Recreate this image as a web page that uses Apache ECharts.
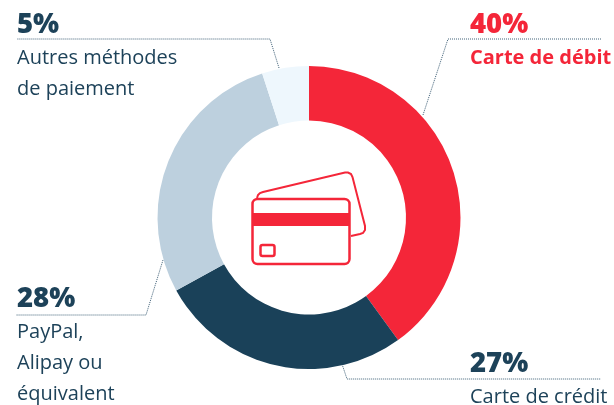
<!DOCTYPE html>
<html>
<head>
<meta charset="utf-8">
<style>html,body{margin:0;padding:0;background:#fff}#c{width:614px;height:405px}</style>
<script src="https://cdn.jsdelivr.net/npm/echarts@6/dist/echarts.min.js"></script>
</head>
<body>
<div id="c"></div>
<script>
const categories = ['Carte de débit', 'Carte de crédit', 'PayPal,\nAlipay ou\néquivalent', 'Autres méthodes\nde paiement'];
const values = [40, 27, 28, 5];
const colors = ['#F42639', '#1A4159', '#BDD0DE', '#EEF7FD'];
const textColors = ['#F42639', '#1D4259', '#1D4259', '#1D4259'];
const labelPos = [[470, 8], [470, 347], [17, 282], [17, 8]];
const guides = [
  [[423, 115], [448, 39], [601, 39]],
  [[342, 364], [347, 379], [601, 379]],
  [[163, 260], [146, 315], [16, 315]],
  [[279, 68], [270, 39], [17, 39]]
];
const backCard = [[257, 198], [258, 195], [260, 193], [263, 192], [345, 172.5], [348, 172.500], [351, 174], [352.5, 177], [365, 226], [365, 230], [363, 233], [360, 234], [351, 236]];
const FONT = '"Open Sans", "Noto Sans", sans-serif';
const RED = '#F42639';
const chart = echarts.init(document.getElementById('c'), null, {renderer: 'canvas'});
chart.setOption({
  animation: false,
  backgroundColor: '#fff',
  series: [{
    type: 'pie',
    center: [309, 217.5],
    radius: [97, 151.5],
    startAngle: 90,
    clockwise: true,
    silent: true,
    data: categories.map((name, i) => ({
      name, value: values[i],
      itemStyle: {color: colors[i]},
      label: {
        formatter: '{v|{c}%}\n{n|{b}}',
        rich: {
          v: {fontFamily: FONT, fontSize: 27.5, fontWeight: 800, color: textColors[i], lineHeight: 35, align: 'left'},
          n: {fontFamily: FONT, fontSize: 20, fontWeight: i === 0 ? 700 : 500, color: textColors[i], lineHeight: 31, align: 'left'}
        }
      }
    })),
    label: {show: true, position: 'outside', align: 'left', verticalAlign: 'top', overflow: 'none', width: 200, alignTo: 'none', edgeDistance: 0},
    labelLine: {show: true, lineStyle: {color: '#3F6077', width: 1, type: [1, 1]}},
    labelLayout: (p) => ({
      x: labelPos[p.dataIndex][0],
      y: labelPos[p.dataIndex][1],
      align: 'left',
      verticalAlign: 'top',
      labelLinePoints: guides[p.dataIndex]
    })
  }],
  graphic: {
    elements: [
      {type: 'rect', shape: {x: 252.5, y: 199, width: 97, height: 65, r: 5}, style: {fill: 'none', stroke: RED, lineWidth: 2.5}},
      {type: 'rect', shape: {x: 252.5, y: 213, width: 97, height: 13}, style: {fill: RED}},
      {type: 'rect', shape: {x: 260.5, y: 245, width: 14, height: 11, r: 2}, style: {fill: 'none', stroke: RED, lineWidth: 2.5}},
      {type: 'polyline', shape: {points: backCard}, style: {fill: 'none', stroke: RED, lineWidth: 2}}
    ]
  }
});
</script>
</body>
</html>
